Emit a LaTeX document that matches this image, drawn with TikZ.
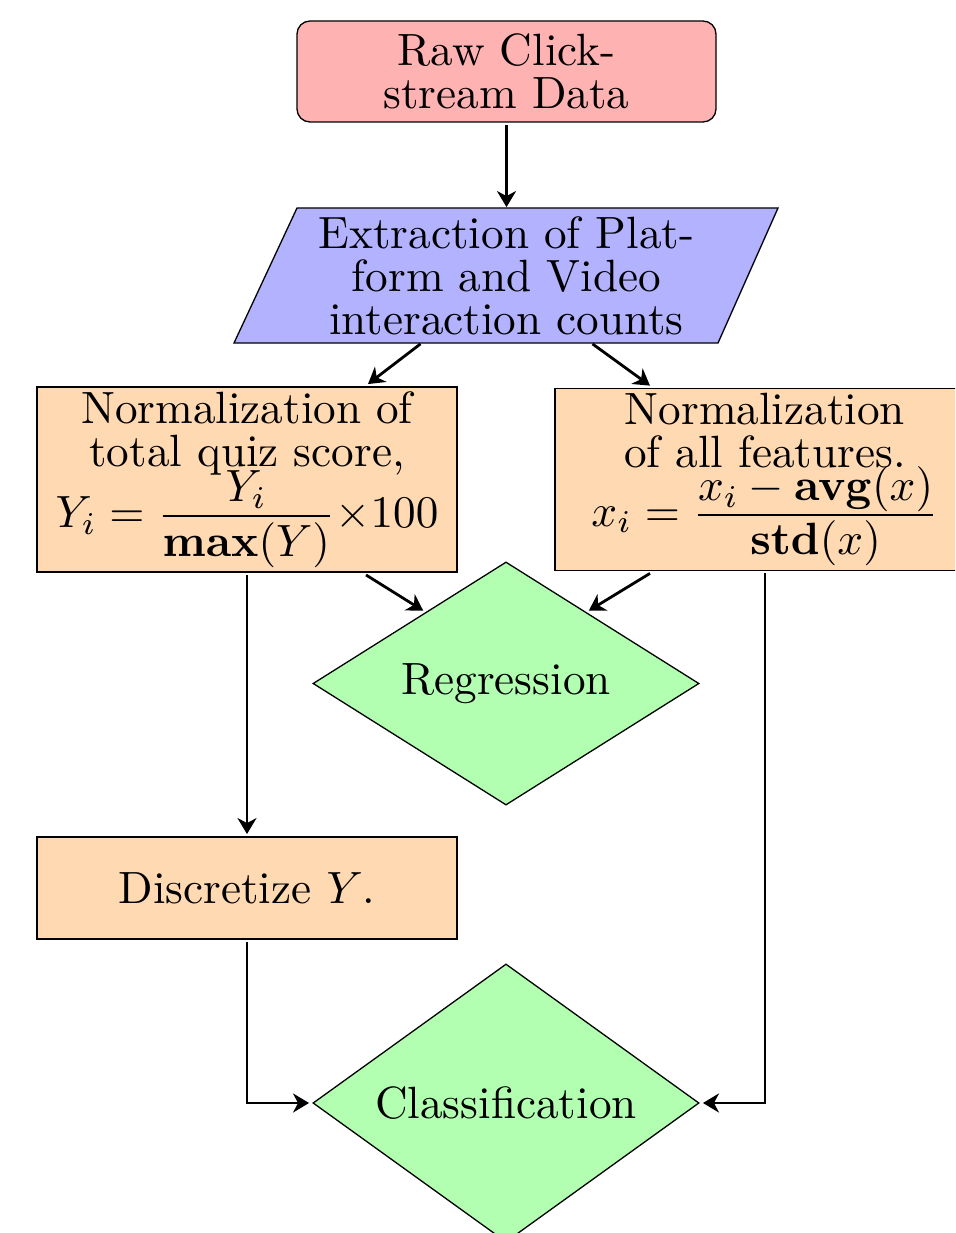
\documentclass[tikz,border=0pt]{standalone}
\usepackage{amsmath}
\usetikzlibrary{shapes.geometric,arrows.meta,calc}
\def\S{4.52}
\newcommand{\numstrut}{\rule[-2.6pt]{0pt}{0pt}}
\newcommand{\denstrut}{\rule{0pt}{8.2pt}}
\newcommand{\myfont}{\fontsize{10}{9.5}\selectfont\lineskiplimit=-100pt\relax}
\begin{document}
\begin{tikzpicture}[x=1pt,y=-1pt,
  every node/.style={scale=\S, font=\myfont, align=center, inner sep=1pt},
  border/.style={draw=black, line width=1.3pt},
  startbox/.style={border, rectangle, rounded corners=13pt, fill=red!30, minimum width=419/\S, minimum height=101/\S},
  procbox/.style={border, rectangle, fill=orange!30, minimum width=420/\S},
  decision/.style={border, diamond, fill=green!30, inner sep=0.5pt},
  arr/.style={line width=2.8pt, -{Stealth[length=16pt,width=19pt,inset=5pt]}}
]
\useasboundingbox (0,0) rectangle (955,1233);
\clip (0,0) rectangle (955,1233);

% start
\node[startbox] (start) at (506.5,71.5) {Raw Click-\\stream Data};

% parallelogram (extraction)
\filldraw[border, fill=blue!30] (297,208) -- (778,208) -- (718,343) -- (234,343) -- cycle;
\node[minimum width=481/\S, minimum height=135/\S] (ext) at (506.5,275.5)
  {Extraction of Plat-\\form and Video\\interaction counts};

% normalization boxes
\node[procbox, minimum height=185/\S] (nl) at (247,479.5)
  {Normalization of\\total quiz score,\\[4.06pt]$Y_i = \frac{\displaystyle\numstrut Y_i}{\displaystyle\denstrut\mathbf{max}(Y)}{\times}100$};
\node[procbox, minimum height=181/\S] (nr) at (765,479.5)
  {Normalization\\of all features.\\[3.5pt]$x_i = \frac{\displaystyle\numstrut x_i - \mathbf{avg}(x)}{\displaystyle\denstrut\mathbf{std}(x)}$};

% regression
\node[decision, minimum width=388/\S, minimum height=245/\S, aspect=1.6] (reg) at (506,683.5) {Regression};

% discretize
\node[procbox, minimum height=102/\S] (disc) at (247,888) {Discretize $Y$.};

% classification
\node[decision, minimum width=388/\S, minimum height=280/\S, aspect=1.4] (cls) at (506,1103) {Classification};

% connectors
\draw[arr] (start.south) -- (ext.north);
\draw[arr] ($(ext.south)+(-86,0)$) -- ($(nl.north)+(121,0)$);
\draw[arr] ($(ext.south)+(86,0)$) -- ($(nr.north)+(-115,0)$);
\draw[arr] ($(nl.south)+(119,0)$) -- ($(reg.north)!0.42!(reg.west)$);
\draw[arr] ($(nr.south)+(-115,0)$) -- ($(reg.north)!0.42!(reg.east)$);
\draw[arr] (nl.south) -- (disc.north);
\draw[arr] (disc.south) |- (cls.west);
\draw[arr] (nr.south) |- (cls.east);
\end{tikzpicture}
\end{document}
